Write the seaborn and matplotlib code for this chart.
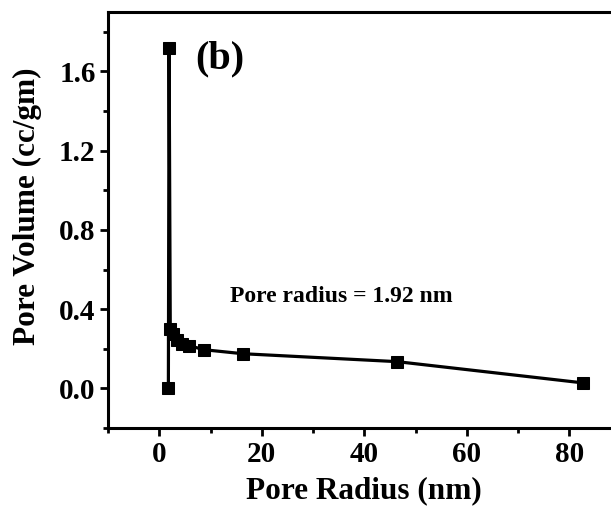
import matplotlib
matplotlib.use("Agg")
import matplotlib.pyplot as plt
from matplotlib.ticker import MultipleLocator
import seaborn as sns
import pandas as pd

# BJH pore size distribution
pore_radius_nm = [1.78, 1.92, 2.15, 2.6, 3.5, 4.5, 5.9, 8.8, 16.3, 46.4, 82.6]
pore_volume_ccg = [0.0, 1.72, 0.30, 0.275, 0.245, 0.225, 0.215, 0.195, 0.175, 0.135, 0.028]
peak_label = "Pore radius = 1.92 nm"
panel_label = "(b)"

sns.set_style("ticks", rc={
    "text.color": "black",
    "axes.labelcolor": "black",
    "axes.edgecolor": "black",
    "xtick.color": "black",
    "ytick.color": "black",
})
plt.rcParams["font.family"] = ["Liberation Serif", "DejaVu Serif"]
plt.rcParams["font.weight"] = "bold"

df = pd.DataFrame({"r": pore_radius_nm, "v": pore_volume_ccg})

fig = plt.figure(figsize=(6.11, 5.08), dpi=100)
ax = fig.add_axes([108 / 611, 80 / 508, 512.5 / 611, 416 / 508])

sns.lineplot(data=df, x="r", y="v", sort=False, ax=ax, color="black",
             linewidth=2.3, marker="s", markersize=9, markeredgecolor="black",
             markerfacecolor="black")

ax.set_xlim(-10, 90)
ax.set_ylim(-0.2, 1.9)
ax.xaxis.set_major_locator(MultipleLocator(20))
ax.xaxis.set_minor_locator(MultipleLocator(10))
ax.yaxis.set_major_locator(MultipleLocator(0.4))
ax.yaxis.set_minor_locator(MultipleLocator(0.2))
ax.yaxis.set_major_formatter(plt.FormatStrFormatter("%.1f"))

for s in ax.spines.values():
    s.set_linewidth(2.2)
    s.set_color("black")
ax.tick_params(which="major", direction="out", length=6, width=2,
               labelsize=21, pad=3, colors="black")
ax.tick_params(which="minor", direction="out", length=3.5, width=2, colors="black")
for lab in ax.get_xticklabels() + ax.get_yticklabels():
    lab.set_fontweight("bold")

ax.set_xlabel("Pore Radius (nm)", fontsize=22.5, fontweight="bold", labelpad=6)
ax.set_ylabel("Pore Volume (cc/gm)", fontsize=22.5, fontweight="bold")
ax.yaxis.set_label_coords(-0.128, 0.534)

ax.text(0.17, 0.888, panel_label, transform=ax.transAxes, fontsize=29,
        fontweight="bold", ha="left", va="center")
ax.text(0.238, 0.315, peak_label, transform=ax.transAxes, fontsize=17,
        fontweight="bold", ha="left", va="center")

fig.savefig("out.png", dpi=100)
